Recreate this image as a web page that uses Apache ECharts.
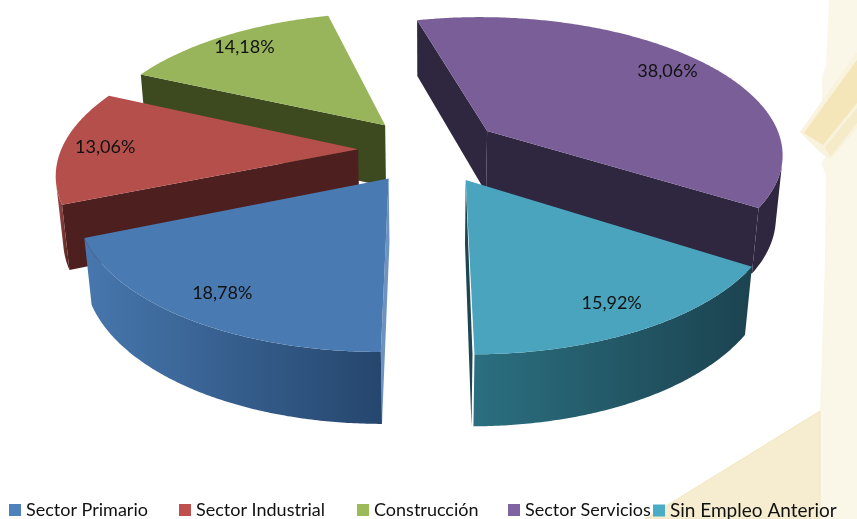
<!DOCTYPE html>
<html>
<head>
<meta charset="utf-8">
<title>Sectores</title>
<script src="https://cdn.jsdelivr.net/npm/echarts@6/dist/echarts.min.js"></script>
<style>
  html, body { margin: 0; padding: 0; background: #fff; }
  #chart { width: 857px; height: 519px; }
</style>
</head>
<body>
<div id="chart"></div>
<script>
const categories = ['Sector Primario', 'Sector Industrial', 'Construcción', 'Sector Servicios', 'Sin Empleo Anterior']
const shares = [18.78, 13.06, 14.18, 38.06, 15.92]

// colores de cada porcion
const legendColors = ['#4f81bd', '#c0504d', '#9bbb59', '#8064a2', '#4bacc6']
const topColors = ['#4a7ab2', '#b54f4c', '#98b55c', '#7a5e98', '#4ba4bd']
const edgeColors = ['#6f93c0', '#4e1f1f', '#3d4a20', '#2f2640', '#1f4550']
const wallFrom = ['#4777ae', '#a5504c', '#3d4a20', '#2f2640', '#2b6f80']
const wallTo = ['#25466d', '#4e1f1f', '#3d4a20', '#2f2640', '#1c4350']
const legendLefts = [9, 179, 357, 508, 653]
const legendSizes = [18, 18, 18, 18, 19]
const labelAt = [0.84, 0.855, 0.86, 0.84, 0.845]

// camara del pie 3d
const START_ANGLE = 180
const CX = 430
const CY = 150
const RADIUS = 297
const EXPLODE = 72
const THICKNESS = 72
const DIST = 1706
const ELEV = 27.45 * Math.PI / 180

const rad = d => d * Math.PI / 180

function project(x, y, z) {
  let dep = DIST - z * Math.cos(ELEV) - y * Math.sin(ELEV)
  let w = DIST / dep
  return [CX + x * w, CY + (z * Math.sin(ELEV) - y * Math.cos(ELEV)) * w]
}

// x,z de un punto en el plano, angulo en sentido horario desde arriba
const onPlane = (deg, r) => [Math.sin(rad(deg)) * r, -Math.cos(rad(deg)) * r]

// camara en coordenadas del modelo
const camZ = DIST * Math.cos(ELEV)

function facing(nDeg, px, pz) {
  let n = onPlane(nDeg, 1)
  return n[0] * (0 - px) + n[1] * (camZ - pz) > 0
}

function buildSlice(i, a0, a1) {
  let mid = (a0 + a1) / 2
  let off = onPlane(mid, EXPLODE)
  let point = (deg, r, y) => {
    let p = onPlane(deg, r)
    return project(p[0] + off[0], y, p[1] + off[1])
  }
  let children = []

  // paredes rectas
  let radialWall = deg => ({
    type: 'polygon',
    shape: {
      points: [point(deg, 0, 0), point(deg, RADIUS, 0), point(deg, RADIUS, -THICKNESS), point(deg, 0, -THICKNESS)]
    },
    style: { fill: edgeColors[i] }
  })
  if (facing(a0 - 90, off[0], off[1])) children.push(radialWall(a0))
  if (facing(a1 + 90, off[0], off[1])) children.push(radialWall(a1))

  // pared curva, solo la parte que mira a la camara
  let upper = []
  let lower = []
  for (let a = a0; a <= a1 + 0.001; a += 0.5) {
    let p = onPlane(a, RADIUS)
    if (facing(a, p[0] + off[0], p[1] + off[1])) {
      upper.push(point(a, RADIUS, 0))
      lower.unshift(point(a, RADIUS, -THICKNESS))
    }
  }
  if (upper.length > 1) {
    children.push({
      type: 'polygon',
      shape: { points: upper.concat(lower) },
      style: {
        fill: new echarts.graphic.LinearGradient(0, 0, 1, 0, [
          { offset: 0, color: wallFrom[i] },
          { offset: 1, color: wallTo[i] }
        ])
      }
    })
  }

  // cara superior
  let top = [point(a0, 0, 0)]
  for (let a = a0; a <= a1 + 0.001; a += 0.5) top.push(point(a, RADIUS, 0))
  children.push({ type: 'polygon', shape: { points: top }, style: { fill: topColors[i] } })

  // etiqueta
  let at = point(mid, RADIUS * labelAt[i], 0)
  children.push({
    type: 'text',
    x: at[0],
    y: at[1],
    style: {
      text: shares[i].toFixed(2).replace('.', ',') + '%',
      fill: '#111',
      font: '18px Lato',
      align: 'center',
      verticalAlign: 'middle'
    }
  })
  return { type: 'group', children: children }
}

let angles = []
let acc = START_ANGLE
let total = shares.reduce((a, b) => a + b, 0)
shares.forEach(v => {
  let sweep = v / total * 360
  angles.push([acc, acc + sweep])
  acc += sweep
})

// de atras hacia adelante
let depth = angles.map(a => -Math.cos(rad((a[0] + a[1]) / 2)))
let order = depth.map((d, i) => i).sort((p, q) => depth[p] - depth[q])

let myChart = echarts.init(document.getElementById('chart'))
let option = {
  animation: false,
  backgroundColor: '#fff',
  graphic: [
    {
      type: 'polygon', z: 0, silent: true,
      shape: { points: [[829, 0], [857, 0], [857, 519], [820, 519], [820, 411], [825, 260], [826, 175], [821, 163], [830, 150], [803, 133], [822, 105], [822, 77], [826, 65]] },
      style: { fill: '#faf6e8' }
    },
    {
      type: 'polygon', z: 0, silent: true,
      shape: { points: [[857, 52], [800, 132], [821, 153], [830, 160], [857, 128]] },
      style: { fill: '#f9f2dc' }
    },
    {
      type: 'polygon', z: 0, silent: true,
      shape: { points: [[857, 60], [804, 133], [823, 145], [857, 103]] },
      style: { fill: '#f4e6b9' }
    },
    {
      type: 'polygon', z: 0, silent: true,
      shape: { points: [[825, 147], [830, 157], [857, 123], [857, 108]] },
      style: { fill: '#f6ebc8' }
    },
    {
      type: 'polygon', z: 0, silent: true,
      shape: { points: [[820, 411], [820, 519], [645, 519]] },
      style: { fill: '#f6edd1', stroke: '#f3e6bd', lineWidth: 1 }
    }
  ],
  legend: categories.map((name, i) => ({
    data: [name],
    left: legendLefts[i],
    top: 501,
    padding: 0,
    itemWidth: 12,
    itemHeight: 12,
    icon: 'rect',
    selectedMode: false,
    itemStyle: { color: legendColors[i] },
    textStyle: { fontFamily: 'Lato', fontSize: legendSizes[i], color: '#111' }
  })),
  series: categories.map((name, i) => ({
    type: 'custom',
    name: name,
    coordinateSystem: 'none',
    silent: true,
    z: 2 + order.indexOf(i),
    itemStyle: { color: legendColors[i] },
    data: [[shares[i]]],
    renderItem: () => buildSlice(i, angles[i][0], angles[i][1])
  }))
}
myChart.setOption(option)
</script>
</body>
</html>
